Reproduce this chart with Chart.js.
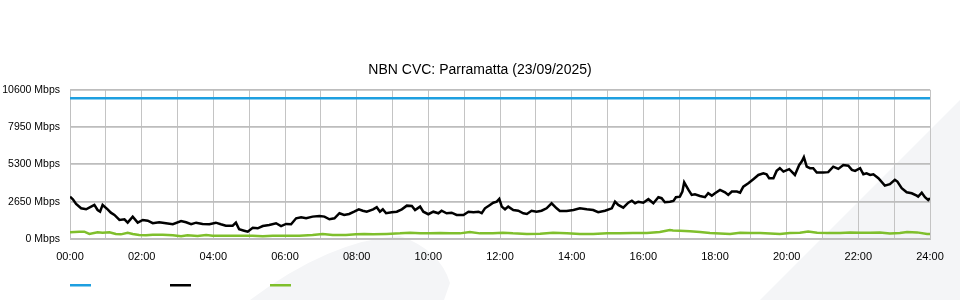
<!DOCTYPE html>
<html>
<head>
<meta charset="utf-8">
<script src="https://cdn.jsdelivr.net/npm/chart.js@4.4.1/dist/chart.umd.min.js"></script>
<style>
  html, body { margin: 0; padding: 0; background: #fff; }
  #wrap { width: 960px; height: 300px; }
</style>
</head>
<body>
<div id="wrap"><canvas id="chartCvc"></canvas></div>
<script>
"use strict";

// hours of day, Mbps
var capTimes = [0, 24];
var capValues = [10000, 10000];

var downTimes = [0.00, 0.08, 0.17, 0.31, 0.45, 0.59, 0.68, 0.77, 0.84, 0.91,
  1.05, 1.14, 1.24, 1.38, 1.52, 1.61, 1.75, 1.89, 2.03, 2.17,
  2.31, 2.49, 2.68, 2.87, 3.10, 3.24, 3.38, 3.52, 3.70, 3.89,
  4.07, 4.21, 4.35, 4.54, 4.63, 4.72, 4.86, 4.96, 5.10, 5.24,
  5.38, 5.56, 5.75, 5.89, 6.03, 6.17, 6.31, 6.45, 6.59, 6.77,
  6.96, 7.10, 7.24, 7.38, 7.52, 7.65, 7.79, 7.93, 8.06, 8.17,
  8.28, 8.46, 8.56, 8.65, 8.73, 8.82, 8.98, 9.12, 9.26, 9.40,
  9.54, 9.63, 9.77, 9.86, 10.00, 10.14, 10.28, 10.37, 10.51, 10.65,
  10.79, 10.98, 11.12, 11.26, 11.40, 11.49, 11.58, 11.72, 11.81, 11.91,
  11.98, 12.05, 12.14, 12.23, 12.37, 12.51, 12.65, 12.75, 12.88, 13.02,
  13.16, 13.30, 13.44, 13.58, 13.67, 13.86, 14.05, 14.23, 14.42, 14.60,
  14.74, 14.93, 15.12, 15.21, 15.30, 15.44, 15.58, 15.68, 15.77, 15.86,
  16.00, 16.14, 16.28, 16.42, 16.51, 16.60, 16.74, 16.84, 16.91, 17.02,
  17.09, 17.14, 17.26, 17.35, 17.44, 17.58, 17.72, 17.81, 17.91, 18.00,
  18.14, 18.28, 18.37, 18.47, 18.61, 18.70, 18.79, 18.93, 19.07, 19.21,
  19.35, 19.44, 19.51, 19.63, 19.72, 19.81, 19.91, 20.07, 20.14, 20.23,
  20.35, 20.42, 20.48, 20.56, 20.65, 20.74, 20.84, 21.02, 21.16, 21.30,
  21.44, 21.58, 21.72, 21.82, 21.91, 22.05, 22.14, 22.23, 22.33, 22.42,
  22.56, 22.74, 22.88, 23.02, 23.09, 23.21, 23.35, 23.49, 23.63, 23.67,
  23.77, 23.86, 23.95, 24.00];
var downValues = [3010, 2820, 2490, 2180, 2110, 2300, 2420, 2060, 1940, 2420,
  2110, 1870, 1710, 1350, 1400, 1160, 1590, 1160, 1350, 1300,
  1120, 1190, 1120, 1050, 1280, 1190, 1050, 1160, 1070, 1050,
  1160, 1050, 950, 950, 1160, 690, 590, 520, 800, 760,
  920, 1000, 1120, 920, 1070, 1050, 1470, 1540, 1470, 1590,
  1640, 1590, 1400, 1470, 1830, 1710, 1780, 1940, 2110, 2010,
  1940, 2110, 2260, 1940, 2110, 1830, 1900, 1940, 2110, 2370,
  2350, 2060, 2300, 1940, 1760, 1940, 1830, 2010, 1830, 1870,
  1710, 1710, 1940, 1900, 1940, 1830, 2180, 2420, 2580, 2650,
  2850, 2300, 2110, 2300, 2060, 2010, 1830, 1780, 2010, 1940,
  2010, 2180, 2540, 2180, 1990, 1990, 2060, 2180, 2110, 2060,
  1900, 2010, 2180, 2650, 2420, 2230, 2580, 2720, 2540, 2650,
  2580, 2830, 2540, 2970, 2900, 2610, 2650, 2700, 2970, 3010,
  3370, 4030, 3490, 3130, 3180, 3060, 2970, 3250, 3080, 3250,
  3490, 3320, 3130, 3370, 3370, 3290, 3720, 3960, 4250, 4550,
  4670, 4600, 4320, 4320, 4840, 5030, 4790, 4960, 4790, 4550,
  5260, 5500, 5810, 5140, 5030, 5030, 4720, 4720, 4750, 5140,
  4980, 5260, 5210, 4910, 4840, 5030, 4600, 4670, 4550, 4600,
  4320, 3790, 3890, 4200, 4080, 3610, 3320, 3250, 3080, 3010,
  3290, 2970, 2770, 2900];

var upTimes = [0.00, 0.26, 0.40, 0.54, 0.77, 0.91, 1.10, 1.28, 1.42, 1.61,
  1.75, 1.93, 2.12, 2.31, 2.59, 2.87, 3.10, 3.28, 3.56, 3.80,
  3.98, 4.35, 4.72, 5.10, 5.38, 5.66, 6.03, 6.40, 6.77, 7.05,
  7.33, 7.70, 7.98, 8.21, 8.46, 8.84, 9.21, 9.49, 9.77, 10.05,
  10.33, 10.60, 10.88, 11.16, 11.44, 11.80, 12.08, 12.36, 12.75, 13.12,
  13.48, 13.87, 14.23, 14.60, 14.99, 15.35, 15.71, 16.10, 16.46, 16.74,
  16.83, 17.02, 17.30, 17.58, 17.86, 18.14, 18.42, 18.70, 18.98, 19.26,
  19.54, 19.81, 20.09, 20.37, 20.60, 20.85, 21.13, 21.49, 21.77, 22.05,
  22.33, 22.60, 22.88, 23.16, 23.36, 23.64, 23.92, 24.00];
var upValues = [480, 520, 520, 360, 480, 450, 480, 360, 330, 450,
  360, 280, 260, 310, 310, 260, 190, 260, 210, 280,
  230, 230, 230, 230, 190, 230, 230, 230, 280, 360,
  280, 280, 330, 360, 330, 360, 400, 450, 400, 400,
  420, 400, 400, 500, 400, 400, 450, 400, 360, 380,
  450, 400, 360, 360, 400, 400, 420, 430, 500, 640,
  610, 580, 550, 500, 420, 390, 360, 450, 420, 420,
  390, 360, 420, 450, 540, 450, 420, 420, 470, 450,
  450, 470, 390, 420, 500, 470, 360, 360];

var yTicks = [0, 2650, 5300, 7950, 10600];

function zeropad(n) {
  return (n < 10 ? "0" : "") + n;
}

function toPoints(times, values) {
  return times.map((t, i) => ({x: t, y: values[i]}));
}

// light grey swoosh behind the chart
var backdrop = {
  id: "backdrop",
  beforeDraw: function(chart) {
    var ctx = chart.ctx;
    ctx.save();
    ctx.fillStyle = "#f4f5f7";
    ctx.beginPath();
    ctx.moveTo(760, 300);
    ctx.lineTo(960, 100);
    ctx.lineTo(960, 300);
    ctx.closePath();
    ctx.fill();
    ctx.beginPath();
    ctx.moveTo(250, 300);
    ctx.quadraticCurveTo(330, 240, 400, 236);
    ctx.quadraticCurveTo(440, 250, 450, 283);
    ctx.lineTo(444, 300);
    ctx.closePath();
    ctx.fill();
    ctx.restore();
  }
};

// line swatches under the axis, no text
var swatches = {
  id: "swatches",
  afterDraw: function(chart) {
    var ctx = chart.ctx;
    var left = chart.chartArea.left;
    ctx.save();
    chart.data.datasets.forEach((ds, i) => {
      ctx.fillStyle = ds.borderColor;
      ctx.fillRect(left + i * 100, 284, 21, 2.5);
    });
    ctx.restore();
  }
};

Chart.defaults.font.family = "'Liberation Sans', Arial, sans-serif";
Chart.defaults.color = "#000";

var chartCvc = new Chart("chartCvc", {
  type: "line",
  data: {
    datasets: [
      {
        label: "Capacity",
        borderColor: "#1e9fe0",
        borderWidth: 2.5,
        pointRadius: 0,
        data: toPoints(capTimes, capValues)
      },
      {
        label: "Download",
        borderColor: "#000000",
        borderWidth: 2.5,
        pointRadius: 0,
        data: toPoints(downTimes, downValues)
      },
      {
        label: "Upload",
        borderColor: "#7fbf2c",
        borderWidth: 2.5,
        pointRadius: 0,
        data: toPoints(upTimes, upValues)
      }
    ]
  },
  plugins: [backdrop, swatches],
  options: {
    responsive: true,
    maintainAspectRatio: false,
    animation: false,
    layout: {
      padding: {top: 62, right: 0, bottom: 36, left: 0}
    },
    plugins: {
      legend: {display: false},
      tooltip: {enabled: false},
      title: {
        display: true,
        text: "NBN CVC: Parramatta (23/09/2025)",
        font: {size: 14, weight: "normal"},
        color: "#000",
        padding: {top: 0, bottom: 11}
      }
    },
    scales: {
      x: {
        type: "linear",
        min: 0,
        max: 24,
        afterFit: function(scale) { scale.height = 25; },
        ticks: {
          stepSize: 1,
          autoSkip: false,
          maxRotation: 0,
          padding: 11,
          font: {size: 11},
          callback: function(v) { return v % 2 === 0 ? zeropad(v) + ":00" : ""; }
        },
        grid: {color: "#c4c4c4", lineWidth: 1, drawTicks: false},
        border: {color: "#c0c0c0"}
      },
      y: {
        min: 0,
        max: 10600,
        afterFit: function(scale) { scale.width = 70; },
        afterBuildTicks: function(scale) {
          scale.ticks = yTicks.map(v => ({value: v}));
        },
        ticks: {
          padding: 10,
          font: {size: 10.5},
          callback: function(v) { return v + " Mbps"; }
        },
        grid: {color: "#bdbdbd", lineWidth: 1.8, drawTicks: false},
        border: {color: "#c0c0c0"}
      },
      // empty strip on the right so the title sits on the page centre
      yRight: {
        display: true,
        position: "right",
        min: 0,
        max: 10600,
        afterFit: function(scale) { scale.width = 30; },
        ticks: {display: false},
        grid: {display: false, drawTicks: false},
        border: {display: false}
      }
    }
  }
});
</script>
</body>
</html>
